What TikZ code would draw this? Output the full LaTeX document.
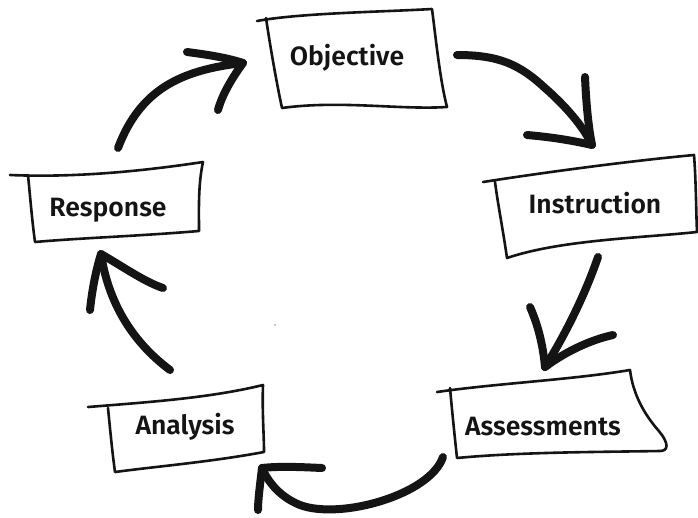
\documentclass[tikz,border=0pt]{standalone}
\usepackage{fontspec}
\setmainfont{Fira Sans}[UprightFont={* SemiBold}]
\definecolor{ink}{HTML}{141414}
\begin{document}
\begin{tikzpicture}[x=1pt,y=-1pt,
  boxline/.style={draw=ink,line width=2.6pt,line cap=round,line join=round},
  arrowline/.style={draw=ink,line width=8pt,line cap=round,line join=round},
  label/.style={font=\fontsize{26.5}{30}\selectfont,text=ink,inner sep=0pt}]
\useasboundingbox (0,0) rectangle (698,517);
\fill[white] (0,0) rectangle (698,517);

% ---- boxes ----
% Objective
\draw[boxline] (257,21) .. controls (300,13) and (380,12) .. (432,9)
  .. controls (436,40) and (440,80) .. (447,107)
  .. controls (400,110) and (340,100) .. (282,108)
  .. controls (276,80) and (270,45) .. (266,18);
% Instruction
\draw[boxline] (483,182) .. controls (560,170) and (640,160) .. (694,155)
  .. controls (696,180) and (696,210) .. (697,232)
  .. controls (640,238) and (560,240) .. (507,258)
  .. controls (503,230) and (498,205) .. (495,182);
% Assessments
\draw[boxline] (437,392) .. controls (500,383) and (570,380) .. (630,370)
  .. controls (633,395) and (645,415) .. (658,430)
  .. controls (670,444) and (668,451) .. (660,451)
  .. controls (600,452) and (520,452) .. (457,458)
  .. controls (454,430) and (452,410) .. (450,388);
% Analysis
\draw[boxline] (88,407) .. controls (150,402) and (210,398) .. (263,385)
  .. controls (262,410) and (264,435) .. (264,452)
  .. controls (210,462) and (160,466) .. (115,472)
  .. controls (112,450) and (110,428) .. (108,408);
% Response
\draw[boxline] (10,175) .. controls (80,178) and (150,170) .. (203,162)
  .. controls (198,185) and (199,210) .. (199,231)
  .. controls (140,236) and (80,238) .. (35,242)
  .. controls (32,220) and (30,195) .. (28,175);

% ---- labels ----
\node[label] (obj) at (347,58) {Objective};
\node[label] (ins) at (595,203) {Instruction};
\node[label] (ass) at (543,427) {Assessments};
\node[label] (ana) at (185,427) {Analysis};
\node[label] (res) at (108,210) {Response};

% ---- arrow coordinates ----
\coordinate (a1s) at (457,55);
\coordinate (a1t) at (592,145);
\coordinate (a2s) at (598,257);
\coordinate (a2t) at (545,367);
\coordinate (a3s) at (443,457);
\coordinate (a3t) at (262,468);
\coordinate (a4s) at (170,370);
\coordinate (a4t) at (101,254);
\coordinate (a5s) at (118,148);
\coordinate (a5t) at (243,63);

% ---- arrows ----
% Objective -> Instruction
\draw[arrowline] (a1s) .. controls (500,55) and (520,65) .. (545,88)
  .. controls (570,110) and (585,130) .. (a1t);
\draw[arrowline] (585,77) .. controls (586,100) and (588,125) .. (a1t)
  .. controls (570,140) and (550,137) .. (527,135);
% Instruction -> Assessments
\draw[arrowline] (a2s) .. controls (585,295) and (565,335) .. (a2t);
\draw[arrowline] (530,307) .. controls (538,325) and (543,345) .. (a2t)
  .. controls (565,352) and (590,340) .. (613,335);
% Assessments -> Analysis
\draw[arrowline] (a3s) .. controls (430,495) and (340,520) .. (300,505)
  .. controls (280,497) and (268,482) .. (a3t);
\draw[arrowline] (322,468) .. controls (300,467) and (280,466) .. (a3t)
  .. controls (260,485) and (258,500) .. (258,510);
% Analysis -> Response
\draw[arrowline] (a4s) .. controls (130,340) and (108,300) .. (a4t);
\draw[arrowline] (90,310) .. controls (92,290) and (96,270) .. (a4t)
  .. controls (125,268) and (145,282) .. (163,288);
% Response -> Objective
\draw[arrowline] (a5s) .. controls (140,90) and (180,70) .. (a5t);
\draw[arrowline] (187,52) .. controls (210,55) and (228,58) .. (a5t)
  .. controls (232,78) and (222,95) .. (218,110);

\fill[ink] (275,325) circle (0.7);
\end{tikzpicture}
\end{document}
